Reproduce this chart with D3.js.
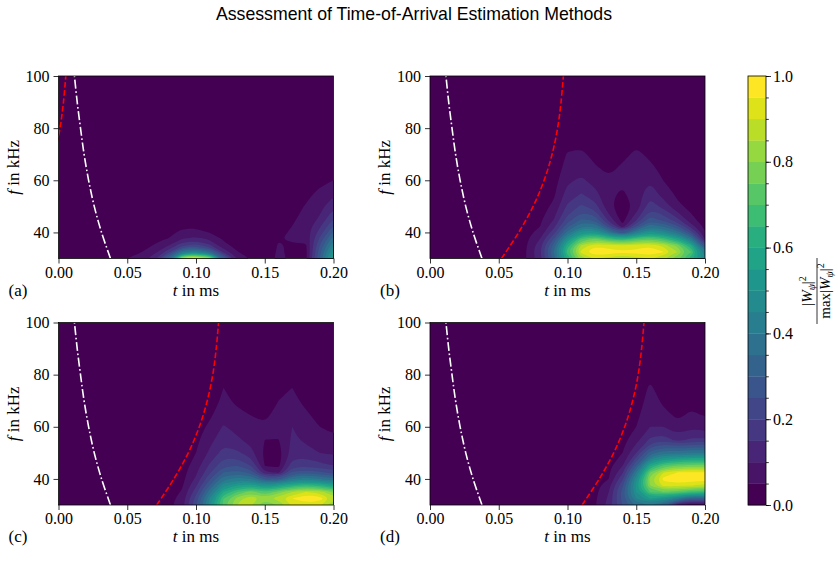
<!DOCTYPE html>
<html>
<head>
<meta charset="utf-8">
<script src="https://cdn.jsdelivr.net/npm/d3@7"></script>
<style>
  body { margin: 0; background: #fff; }
  svg text { font-family: "Liberation Serif", "Times New Roman", serif; fill: #000; }
</style>
</head>
<body>
<svg id="fig" width="838" height="570"></svg>
<script>
// grid of the scalograms: time columns (ms) and frequency rows (kHz)
var tCols = [0, 0.01, 0.02, 0.03, 0.04, 0.05, 0.06, 0.07, 0.08, 0.09, 0.1,
             0.11, 0.12, 0.13, 0.14, 0.15, 0.16, 0.17, 0.18, 0.19, 0.2];
var fRows = [30, 32.5, 35, 37.5, 40, 42.5, 45, 50, 55, 60, 65, 70, 75, 80, 100];
var levels = [0, 0.05, 0.1, 0.15, 0.2, 0.25, 0.3, 0.35, 0.4, 0.45, 0.5,
              0.55, 0.6, 0.65, 0.7, 0.75, 0.8, 0.85, 0.9, 0.95, 1];
var z = [0, 0, 0, 0, 0, 0, 0, 0, 0, 0, 0, 0, 0, 0, 0];

// normalised |W|^2, one column (bottom to top) per time step
var powerA = [z, z, z, z,
  [0.03, 0.025, 0.02, 0.015, 0.01, 0.008, 0.005, 0, 0, 0, 0, 0, 0, 0, 0],
  [0.05, 0.045, 0.035, 0.03, 0.02, 0.015, 0.01, 0.005, 0, 0, 0, 0, 0, 0, 0],
  [0.07, 0.048, 0.04, 0.032, 0.025, 0.018, 0.012, 0.006, 0, 0, 0, 0, 0, 0, 0],
  [0.14, 0.085, 0.052, 0.045, 0.035, 0.025, 0.02, 0.01, 0.005, 0, 0, 0, 0, 0, 0],
  [0.35, 0.18, 0.1, 0.051, 0.04, 0.032, 0.025, 0.015, 0.005, 0, 0, 0, 0, 0, 0],
  [0.88, 0.4, 0.19, 0.1, 0.058, 0.042, 0.03, 0.018, 0.01, 0.005, 0, 0, 0, 0, 0],
  [1.0, 0.45, 0.22, 0.12, 0.062, 0.043, 0.03, 0.018, 0.01, 0.005, 0, 0, 0, 0, 0],
  [0.85, 0.34, 0.16, 0.09, 0.048, 0.035, 0.025, 0.015, 0.008, 0, 0, 0, 0, 0, 0],
  [0.32, 0.14, 0.06, 0.045, 0.035, 0.025, 0.02, 0.01, 0.005, 0, 0, 0, 0, 0, 0],
  [0.1, 0.052, 0.04, 0.03, 0.022, 0.015, 0.01, 0.005, 0, 0, 0, 0, 0, 0, 0],
  [0.045, 0.035, 0.028, 0.02, 0.015, 0.01, 0.008, 0.005, 0, 0, 0, 0, 0, 0, 0],
  [0.035, 0.03, 0.025, 0.02, 0.015, 0.01, 0.01, 0.005, 0, 0, 0, 0, 0, 0, 0],
  [0.056, 0.055, 0.053, 0.048, 0.04, 0.03, 0.02, 0.01, 0.005, 0, 0, 0, 0, 0, 0],
  [0.045, 0.042, 0.046, 0.056, 0.055, 0.05, 0.045, 0.035, 0.02, 0.01, 0.005, 0, 0, 0, 0],
  [0.04, 0.036, 0.044, 0.062, 0.07, 0.068, 0.062, 0.053, 0.04, 0.025, 0.01, 0.005, 0, 0, 0],
  [0.3, 0.28, 0.25, 0.21, 0.17, 0.14, 0.11, 0.08, 0.058, 0.04, 0.02, 0.01, 0, 0, 0],
  [0.58, 0.52, 0.45, 0.38, 0.31, 0.25, 0.2, 0.14, 0.09, 0.05, 0.03, 0.015, 0, 0, 0]
];
var powerB = [z, z, z, z, z, z, z,
  [0.05, 0.05, 0.046, 0.04, 0.035, 0.03, 0.025, 0.015, 0.01, 0.005, 0, 0, 0, 0, 0],
  [0.13, 0.14, 0.13, 0.1, 0.065, 0.048, 0.04, 0.03, 0.02, 0.015, 0.01, 0.005, 0, 0, 0],
  [0.32, 0.35, 0.32, 0.25, 0.18, 0.13, 0.1, 0.06, 0.04, 0.03, 0.02, 0.01, 0.005, 0, 0],
  [0.6, 0.68, 0.62, 0.5, 0.37, 0.28, 0.22, 0.16, 0.12, 0.09, 0.068, 0.055, 0.03, 0.015, 0],
  [0.82, 0.92, 0.86, 0.7, 0.52, 0.39, 0.3, 0.21, 0.15, 0.11, 0.075, 0.06, 0.035, 0.015, 0],
  [0.9, 1.0, 0.94, 0.76, 0.54, 0.38, 0.28, 0.17, 0.115, 0.08, 0.055, 0.035, 0.02, 0.01, 0],
  [0.88, 0.98, 0.92, 0.68, 0.4, 0.22, 0.13, 0.062, 0.06, 0.058, 0.035, 0.02, 0.01, 0.005, 0],
  [0.85, 0.96, 0.9, 0.62, 0.25, 0.055, 0.028, 0.015, 0.042, 0.065, 0.058, 0.035, 0.02, 0.01, 0],
  [0.88, 0.97, 0.92, 0.7, 0.42, 0.24, 0.14, 0.065, 0.075, 0.09, 0.08, 0.062, 0.036, 0.015, 0],
  [0.9, 1.0, 0.94, 0.74, 0.52, 0.37, 0.27, 0.18, 0.13, 0.095, 0.062, 0.038, 0.02, 0.01, 0],
  [0.85, 0.95, 0.88, 0.68, 0.47, 0.33, 0.23, 0.13, 0.075, 0.048, 0.03, 0.015, 0.01, 0.005, 0],
  [0.76, 0.85, 0.78, 0.58, 0.38, 0.25, 0.16, 0.058, 0.04, 0.03, 0.02, 0.01, 0.005, 0, 0],
  [0.62, 0.7, 0.6, 0.4, 0.23, 0.12, 0.06, 0.04, 0.03, 0.02, 0.01, 0.005, 0, 0, 0],
  [0.45, 0.42, 0.25, 0.09, 0.05, 0.035, 0.03, 0.025, 0.02, 0.01, 0.005, 0, 0, 0, 0]
];
var powerC = [z, z, z, z, z, z, z, z,
  [0.035, 0.03, 0.025, 0.02, 0.015, 0.012, 0.01, 0.005, 0, 0, 0, 0, 0, 0, 0],
  [0.08, 0.07, 0.055, 0.045, 0.035, 0.03, 0.025, 0.015, 0.01, 0.005, 0, 0, 0, 0, 0],
  [0.24, 0.22, 0.18, 0.14, 0.11, 0.09, 0.075, 0.05, 0.038, 0.028, 0.02, 0.01, 0.005, 0, 0],
  [0.48, 0.45, 0.38, 0.3, 0.24, 0.19, 0.16, 0.11, 0.085, 0.06, 0.04, 0.025, 0.012, 0.005, 0],
  [0.72, 0.7, 0.6, 0.48, 0.38, 0.3, 0.24, 0.17, 0.13, 0.105, 0.078, 0.06, 0.05, 0.025, 0],
  [0.85, 0.82, 0.7, 0.55, 0.42, 0.32, 0.25, 0.16, 0.11, 0.08, 0.058, 0.042, 0.025, 0.01, 0],
  [0.85, 0.9, 0.78, 0.58, 0.4, 0.28, 0.2, 0.12, 0.08, 0.062, 0.048, 0.03, 0.015, 0.005, 0],
  [0.75, 0.82, 0.7, 0.5, 0.28, 0.11, 0.05, 0.035, 0.05, 0.055, 0.04, 0.025, 0.01, 0.005, 0],
  [0.8, 0.88, 0.78, 0.55, 0.28, 0.09, 0.035, 0.025, 0.048, 0.07, 0.062, 0.05, 0.03, 0.01, 0],
  [0.9, 0.95, 0.85, 0.62, 0.4, 0.26, 0.18, 0.12, 0.11, 0.1, 0.08, 0.06, 0.05, 0.025, 0],
  [0.92, 1.0, 0.9, 0.66, 0.43, 0.28, 0.19, 0.12, 0.09, 0.07, 0.055, 0.04, 0.025, 0.01, 0],
  [0.9, 0.98, 0.88, 0.63, 0.4, 0.26, 0.17, 0.1, 0.07, 0.05, 0.035, 0.02, 0.01, 0.005, 0],
  [0.8, 0.88, 0.78, 0.56, 0.36, 0.23, 0.15, 0.09, 0.058, 0.04, 0.025, 0.015, 0.005, 0, 0]
];
var powerD = [z, z, z, z, z, z, z, z, z, z, z, z,
  [0.045, 0.04, 0.035, 0.03, 0.025, 0.02, 0.015, 0.01, 0.005, 0, 0, 0, 0, 0, 0],
  [0.12, 0.11, 0.1, 0.08, 0.05, 0.04, 0.035, 0.025, 0.015, 0.01, 0.005, 0, 0, 0, 0],
  [0.25, 0.27, 0.27, 0.24, 0.19, 0.14, 0.1, 0.05, 0.035, 0.025, 0.015, 0.01, 0.005, 0, 0],
  [0.36, 0.45, 0.5, 0.52, 0.48, 0.4, 0.3, 0.15, 0.08, 0.05, 0.035, 0.02, 0.01, 0.005, 0],
  [0.4, 0.55, 0.7, 0.8, 0.82, 0.75, 0.6, 0.32, 0.16, 0.1, 0.085, 0.072, 0.06, 0.03, 0],
  [0.3, 0.5, 0.75, 0.92, 0.97, 0.9, 0.72, 0.38, 0.18, 0.1, 0.06, 0.04, 0.02, 0.01, 0],
  [0.08, 0.42, 0.72, 0.92, 1.0, 0.95, 0.76, 0.38, 0.13, 0.06, 0.04, 0.03, 0.015, 0.005, 0],
  [0.02, 0.3, 0.68, 0.9, 0.99, 0.96, 0.78, 0.4, 0.16, 0.09, 0.055, 0.035, 0.015, 0.005, 0],
  [0.04, 0.32, 0.65, 0.88, 0.98, 0.95, 0.78, 0.4, 0.16, 0.07, 0.045, 0.03, 0.015, 0.005, 0]
];

// arrival-time curves: frequency (kHz) -> time (ms)
var curveF = [30, 40, 50, 60, 70, 80, 90, 100];
var whiteT = [0.0378, 0.0313, 0.026, 0.0219, 0.0186, 0.016, 0.0136, 0.0116];
var redA = [-0.0397, -0.0272, -0.0167, -0.0087, -0.0029, 0.0011, 0.0036, 0.0053];
var redB = [0.052, 0.0645, 0.075, 0.083, 0.0888, 0.0928, 0.0953, 0.097];
var redC = [0.0714, 0.0839, 0.0944, 0.1024, 0.1082, 0.1122, 0.1147, 0.1164];
var redD = [0.1106, 0.1231, 0.1336, 0.1416, 0.1474, 0.1514, 0.1539, 0.1556];

var xTicks = [0, 0.05, 0.1, 0.15, 0.2];
var yTicks = [40, 60, 80, 100];
var cbTicks = [0, 0.2, 0.4, 0.6, 0.8, 1];

var svg = d3.select("#fig");
var W = 275, H = 182.5, fs = 16;
var serif = '"Liberation Serif", "Times New Roman", serif';

var panels = [
  { letter: "(a)", power: powerA, red: redA, x: 58.5, y: 76 },
  { letter: "(b)", power: powerB, red: redB, x: 430, y: 76 },
  { letter: "(c)", power: powerC, red: redC, x: 58.5, y: 322.5 },
  { letter: "(d)", power: powerD, red: redD, x: 430, y: 322.5 }
];

function bandColor(v) {
  return d3.interpolateViridis(Math.round(v / 0.05) / 19);
}

// where d3.contours puts sample 0 (probe once)
var probe = d3.contours().size([2, 1]).thresholds([0.5])([0, 1]);
var probeX = probe[0].coordinates[0][0].map((p) => p[0]).filter((v) => v > 0 && v < 2);
var off = probeX.length ? d3.min(probeX) - 0.5 : 0.5;

// row-major grid with the edges repeated once, so ring borders fall outside the axes
function padGrid(cols) {
  var n = cols.length, m = cols[0].length, out = [];
  for (var j = -1; j <= m; j++) {
    for (var i = -1; i <= n; i++) {
      var ii = Math.max(0, Math.min(n - 1, i));
      var jj = Math.max(0, Math.min(m - 1, j));
      out.push(cols[ii][jj]);
    }
  }
  return out;
}

function styleAxis(sel) {
  sel.attr("font-family", null).attr("font-size", null);
  sel.select(".domain").remove();
  sel.selectAll(".tick line").attr("stroke", "#000").attr("stroke-width", 0.8);
  sel.selectAll(".tick text").attr("font-family", serif).attr("font-size", fs).attr("fill", "#000");
}

panels.forEach(function (p, k) {
  var g = svg.append("g").attr("transform", "translate(" + p.x + "," + p.y + ")");
  var x = d3.scaleLinear().domain([0, 0.2]).range([0, W]);
  var y = d3.scaleLinear().domain([30, 100]).range([H, 0]);

  var clipId = "clip" + k;
  g.append("clipPath").attr("id", clipId).append("rect").attr("width", W).attr("height", H);
  var plot = g.append("g").attr("clip-path", "url(#" + clipId + ")");

  plot.append("rect").attr("width", W).attr("height", H).attr("fill", bandColor(0));

  var n = p.power.length, m = fRows.length;
  var tAt = d3.scaleLinear().domain(d3.range(n)).range(tCols);
  var fAt = d3.scaleLinear().domain(d3.range(m)).range(fRows);
  var contours = d3.contours().size([n + 2, m + 2]).thresholds(levels.slice(1, -1))(padGrid(p.power));
  var ringLine = d3.line().curve(d3.curveBasisClosed);

  plot.append("g").selectAll("path").data(contours).join("path")
    .attr("fill", (c) => bandColor(c.value))
    .attr("fill-rule", "evenodd")
    .attr("d", (c) => c.coordinates.map((poly) => poly.map((ring) =>
      ringLine(ring.slice(0, -1).map((pt) => [x(tAt(pt[0] - off - 1)), y(fAt(pt[1] - off - 1))]))
    ).join("")).join(""));

  var curve = d3.line().curve(d3.curveCatmullRom);
  plot.append("path")
    .attr("d", curve(curveF.map((f, i) => [x(whiteT[i]), y(f)])))
    .attr("fill", "none").attr("stroke", "#fff").attr("stroke-width", 1.6)
    .attr("stroke-dasharray", "9,2.6,1.6,2.6");
  plot.append("path")
    .attr("d", curve(curveF.map((f, i) => [x(p.red[i]), y(f)])))
    .attr("fill", "none").attr("stroke", "#ff0000").attr("stroke-width", 1.6)
    .attr("stroke-dasharray", "5.6,2.4");

  g.append("rect").attr("width", W).attr("height", H)
    .attr("fill", "none").attr("stroke", "#000").attr("stroke-width", 0.8);

  g.append("g").attr("transform", "translate(0," + H + ")")
    .call(d3.axisBottom(x).tickValues(xTicks).tickFormat(d3.format(".2f")).tickSize(5).tickPadding(3))
    .call(styleAxis);
  g.append("g")
    .call(d3.axisLeft(y).tickValues(yTicks).tickFormat(d3.format("d")).tickSize(5).tickPadding(4))
    .call(styleAxis);

  var xl = g.append("text").attr("x", W / 2).attr("y", H + 37)
    .attr("text-anchor", "middle").attr("font-size", fs + 1);
  xl.append("tspan").attr("font-style", "italic").text("t");
  xl.append("tspan").text(" in ms");

  var yl = g.append("text").attr("transform", "translate(-40," + H / 2 + ") rotate(-90)")
    .attr("text-anchor", "middle").attr("font-size", fs + 1);
  yl.append("tspan").attr("font-style", "italic").text("f");
  yl.append("tspan").text(" in kHz");

  g.append("text").attr("x", -50).attr("y", H + 37).attr("font-size", fs + 1).text(p.letter);
});

// colour bar
var cb = svg.append("g").attr("transform", "translate(748,76)");
var cbW = 18, cbH = 429;
var cy = d3.scaleLinear().domain([0, 1]).range([cbH, 0]);
cb.selectAll("rect.band").data(d3.pairs(levels)).join("rect")
  .attr("x", 0).attr("y", (d) => cy(d[1])).attr("width", cbW)
  .attr("height", (d) => cy(d[0]) - cy(d[1]) + 0.3)
  .attr("fill", (d) => bandColor(d[0]));
cb.append("g").attr("transform", "translate(" + cbW + ",0)")
  .call(d3.axisRight(cy).tickValues(levels).tickFormat("").tickSize(2.8))
  .call(styleAxis);
cb.append("g").attr("transform", "translate(" + cbW + ",0)")
  .call(d3.axisRight(cy).tickValues(cbTicks).tickFormat(d3.format(".1f")).tickSize(5).tickPadding(2))
  .call(styleAxis);
cb.append("rect").attr("width", cbW).attr("height", cbH)
  .attr("fill", "none").attr("stroke", "#000").attr("stroke-width", 0.8);

// colour bar label: |W_psi|^2 / max|W_psi|^2
var lab = svg.append("g").attr("transform", "translate(817,291) rotate(-90)");
var num = lab.append("text").attr("x", 0).attr("y", -5).attr("text-anchor", "middle").attr("font-size", 15);
num.append("tspan").text("|");
num.append("tspan").attr("font-style", "italic").text("W");
num.append("tspan").attr("font-style", "italic").attr("font-size", 10).attr("dy", 3).text("ψ");
num.append("tspan").attr("dy", -3).text("|");
num.append("tspan").attr("font-size", 10).attr("dy", -6).text("2");
lab.append("line").attr("x1", -33).attr("x2", 33).attr("y1", 0).attr("y2", 0)
  .attr("stroke", "#000").attr("stroke-width", 0.8);
var den = lab.append("text").attr("x", 0).attr("y", 13).attr("text-anchor", "middle").attr("font-size", 15);
den.append("tspan").text("max|");
den.append("tspan").attr("font-style", "italic").text("W");
den.append("tspan").attr("font-style", "italic").attr("font-size", 10).attr("dy", 3).text("ψ");
den.append("tspan").attr("dy", -3).text("|");
den.append("tspan").attr("font-size", 10).attr("dy", -6).text("2");

svg.append("text").attr("x", 414).attr("y", 20).attr("text-anchor", "middle")
  .style("font-family", '"Liberation Sans", Arial, sans-serif').attr("font-size", 17.7)
  .text("Assessment of Time-of-Arrival Estimation Methods");
</script>
</body>
</html>
